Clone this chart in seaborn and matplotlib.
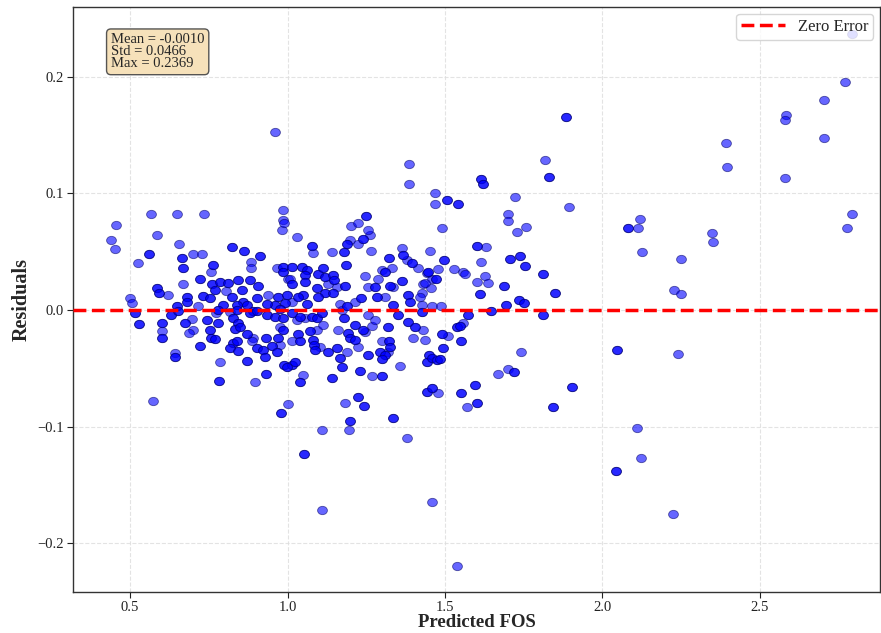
import numpy as np
import pandas as pd
import matplotlib
matplotlib.use("Agg")
import matplotlib.pyplot as plt
from matplotlib.path import Path
from matplotlib.markers import MarkerStyle
import seaborn as sns

# Predicted FOS / residual pairs that occur once in the test set
fos_once = [
    0.456, 0.440, 0.452, 0.567, 0.649, 0.735, 0.525, 0.500, 0.506, 0.573,
    0.586, 0.656, 0.700, 0.729, 0.757, 0.884, 0.884, 0.983, 0.967, 1.002, 0.668, 0.621, 0.805, 0.938, 0.716,
    0.602, 0.643, 0.697, 0.700, 0.687, 0.773, 0.786, 0.890, 0.887, 0.976, 0.897, 0.817, 0.976,
    1.030, 1.081, 1.141, 1.198, 1.224, 1.262, 1.256, 1.202, 1.265, 1.008, 1.129, 1.157, 1.014, 1.167,
    1.214, 1.246, 1.256, 1.287, 1.300, 1.332, 1.310, 1.335, 1.363, 1.379, 1.414, 1.452, 1.459, 1.430,
    1.427, 1.456, 1.421, 1.427, 1.459,
    1.030, 1.056, 1.094, 1.113, 1.014, 1.103, 1.189, 1.160, 1.224, 1.246, 1.268, 1.256, 1.278, 1.300,
    1.319, 1.357, 1.430, 1.398, 1.437, 1.049, 1.268, 1.173,
    1.510, 1.557, 1.741, 1.668, 1.700, 1.478, 1.570,
    1.817, 1.468, 1.468, 1.722, 1.894, 1.700, 1.700, 1.729, 1.757, 1.490, 1.630, 1.614, 1.443, 1.478,
    1.529, 1.557, 1.563, 1.437, 1.627, 1.602, 1.637, 1.487,
    1.386, 1.386, 0.986, 0.986, 0.989, 1.224, 0.960,
    2.113, 2.119, 2.125, 2.110, 2.122, 2.224, 2.240, 2.227, 2.249, 2.249, 2.348, 2.351, 2.392, 2.395,
    2.583, 2.579, 2.579, 2.703, 2.703, 2.770, 2.776, 2.792, 2.792,
    1.110, 1.459, 1.538, 1.002, 1.110, 1.195, 1.183, 1.379,
]
resid_once = [
    0.073, 0.060, 0.052, 0.082, 0.082, 0.082, 0.040, 0.010, 0.006, -0.078,
    0.064, 0.057, 0.048, 0.048, 0.033, 0.041, 0.036, 0.069, 0.036, 0.027, 0.022, 0.013, 0.016, 0.013, 0.003,
    -0.018, -0.037, -0.008, -0.017, -0.020, -0.003, -0.045, -0.024, -0.027, -0.030, -0.062, -0.002, -0.015,
    0.063, 0.049, 0.050, 0.060, 0.057, 0.064, 0.069, 0.072, 0.051, 0.027, 0.022, 0.020, 0.007, 0.005,
    0.007, 0.029, 0.020, 0.027, 0.034, 0.036, 0.011, 0.020, 0.053, 0.043, 0.036, 0.051, 0.027, 0.022,
    0.015, 0.019, 0.011, 0.004, 0.003,
    -0.009, -0.007, -0.017, -0.013, -0.027, -0.032, -0.036, -0.017, -0.032, -0.019, -0.014, -0.004, -0.009, -0.027,
    -0.036, -0.048, -0.017, -0.024, -0.026, -0.056, -0.057, 0.000,
    -0.022, -0.011, -0.036, -0.055, -0.051, -0.071, -0.083,
    0.129, 0.100, 0.091, 0.097, 0.088, 0.082, 0.076, 0.067, 0.071, 0.070, 0.054, 0.041, 0.032, 0.035,
    0.035, 0.033, 0.031, 0.023, 0.029, 0.024, 0.023, 0.003,
    0.125, 0.108, 0.086, 0.077, 0.075, 0.075, 0.153,
    0.070, 0.078, 0.050, -0.101, -0.127, -0.175, -0.038, 0.017, 0.014, 0.044, 0.066, 0.058, 0.143, 0.123,
    0.167, 0.163, 0.113, 0.180, 0.148, 0.196, 0.070, 0.082, 0.2369,
    -0.172, -0.165, -0.220, -0.081, -0.103, -0.103, -0.080, -0.110,
]

# Pairs that occur twice (repeated samples overlap exactly)
fos_twice = [
    0.516, 0.529,
    0.560, 0.665, 0.668, 0.763, 0.824, 0.862, 0.913, 0.986, 0.986, 0.722, 0.586, 0.592, 0.681, 0.681,
    0.732, 0.760, 0.786, 0.811, 0.843, 0.881, 0.906, 0.770, 0.856, 0.824, 0.754, 0.859, 0.840, 0.903,
    0.871, 0.795, 0.970, 0.998, 0.992, 0.960, 0.935, 0.649, 0.779, 0.840, 0.890, 0.976,
    0.602, 0.602, 0.643, 0.630, 0.652, 0.675, 0.722, 0.744, 0.754, 0.757, 0.770, 0.779, 0.783, 0.827,
    0.843, 0.833, 0.849, 0.871, 0.827, 0.840, 0.817, 0.843, 0.871, 0.903, 0.922, 0.929, 0.932, 0.951,
    0.967, 0.932, 0.989, 0.881, 0.903, 0.935, 0.960, 0.986, 0.986, 0.970,
    1.078, 1.179, 1.189, 1.240, 1.186, 1.014, 1.046, 1.062, 1.056, 1.014, 1.056, 1.097, 1.113, 1.119,
    1.144, 1.148, 1.094, 1.183, 1.119, 1.097, 1.144, 1.049, 1.033, 1.062, 1.189, 1.233, 1.278, 1.310,
    1.284, 1.325, 1.363, 1.322, 1.367, 1.395, 1.446, 1.383, 1.389, 1.335,
    1.014, 1.040, 1.078, 1.094, 1.110, 1.071, 1.033, 1.040, 1.081, 1.084, 1.087, 1.129, 1.157, 1.167,
    1.173, 1.179, 1.192, 1.198, 1.214, 1.214, 1.256, 1.240, 1.322, 1.325, 1.294, 1.310, 1.300, 1.319,
    1.351, 1.383, 1.405, 1.449, 1.443, 1.459, 1.014, 1.024, 0.998, 1.040, 1.141, 1.230, 1.300, 1.427,
    1.490, 1.538, 1.548, 1.551, 1.494, 1.475, 1.484, 1.719, 1.595, 1.443, 1.459, 1.551, 1.602, 1.843, 1.903,
    1.614, 1.621, 1.830, 1.506, 1.541, 1.602, 1.497, 1.706, 1.738, 1.754, 1.471, 1.687, 1.611, 1.811,
    1.849, 1.735, 1.751, 1.694, 1.573, 1.646, 1.811,
    1.249,
    1.884, 2.081, 2.046, 2.043,
    0.979, 1.052, 1.198, 1.224, 1.243, 1.335,
]
resid_twice = [
    -0.003, -0.012,
    0.048, 0.045, 0.036, 0.039, 0.054, 0.051, 0.046, 0.037, 0.033, 0.027, 0.019, 0.015, 0.011, 0.007,
    0.012, 0.022, 0.024, 0.023, 0.026, 0.026, 0.021, 0.017, 0.017, 0.011, 0.010, 0.007, 0.004, 0.010,
    0.004, 0.004, 0.011, 0.013, 0.006, 0.004, 0.005, 0.003, 0.000, 0.000, -0.001, 0.001,
    -0.011, -0.024, -0.040, -0.004, -0.001, -0.011, -0.031, -0.009, -0.017, -0.024, -0.025, -0.011, -0.061, -0.007,
    -0.011, -0.016, -0.015, -0.021, -0.028, -0.027, -0.033, -0.035, -0.044, -0.033, -0.034, -0.040, -0.024, -0.031,
    -0.036, -0.055, -0.047, -0.003, -0.001, -0.004, -0.006, -0.007, -0.017, -0.024,
    0.055, 0.050, 0.057, 0.061, 0.039, 0.037, 0.037, 0.034, 0.030, 0.022, 0.024, 0.031, 0.036, 0.028,
    0.030, 0.026, 0.019, 0.021, 0.015, 0.011, 0.015, 0.013, 0.011, 0.005, 0.003, 0.010, 0.020, 0.033,
    0.011, 0.021, 0.025, 0.045, 0.047, 0.040, 0.033, 0.013, 0.007, 0.004,
    -0.003, -0.006, -0.006, -0.007, -0.003, -0.018, -0.021, -0.027, -0.026, -0.030, -0.034, -0.036, -0.033, -0.041,
    -0.049, -0.007, -0.020, -0.024, -0.026, -0.013, -0.039, -0.017, -0.027, -0.032, -0.036, -0.039, -0.042, -0.015,
    -0.004, -0.010, -0.015, -0.039, -0.045, -0.041, -0.047, -0.045, -0.049, -0.062, -0.058, -0.052, -0.057, -0.002,
    -0.021, -0.015, -0.014, -0.027, -0.033, -0.043, -0.042, -0.053, -0.064, -0.070, -0.067, -0.071, -0.080, -0.083, -0.066,
    0.112, 0.108, 0.114, 0.094, 0.091, 0.055, 0.043, 0.044, 0.046, 0.038, 0.027, 0.021, 0.014, 0.031,
    0.015, 0.009, 0.006, 0.004, -0.004, -0.001, -0.004,
    0.081,
    0.166, 0.070, -0.034, -0.138,
    -0.088, -0.124, -0.095, -0.075, -0.082, -0.093,
]

stats_lines = ["Mean = -0.0010", "Std = 0.0466", "Max = 0.2369"]
x_ticks = [0.5, 1.0, 1.5, 2.0, 2.5]
y_ticks = [-0.2, -0.1, 0.0, 0.1, 0.2]

df = pd.DataFrame({
    "Predicted FOS": fos_once + fos_twice + fos_twice,
    "Residuals": resid_once + resid_twice + resid_twice,
})

sns.set_theme(style="whitegrid")
plt.rcParams["font.family"] = ["Liberation Serif", "DejaVu Serif"]
plt.rcParams["axes.unicode_minus"] = True

fig = plt.figure(figsize=(8.81, 6.33), dpi=100)
ax = fig.add_axes([73 / 881, 41 / 633, 807 / 881, 585 / 633])

# slightly wide oval marker
circ = Path.unit_circle()
oval = Path(circ.vertices * np.array([1.18, 1.0]), circ.codes)

sns.scatterplot(data=df, x="Predicted FOS", y="Residuals", ax=ax,
                marker=MarkerStyle(oval), s=50, color="blue", alpha=0.6,
                edgecolor="#000066", linewidth=0.6, zorder=3)

ax.axhline(0, color="red", linestyle="--", linewidth=2.5, label="Zero Error", zorder=4)

ax.set_xlim(0.319, 2.881)
ax.set_ylim(-0.242, 0.260)
ax.set_xticks(x_ticks)
ax.set_yticks(y_ticks)
ax.tick_params(axis="both", labelsize=10.5, colors="#222222", length=4, width=0.8,
               direction="out", left=True, bottom=True, pad=2.5)
ax.grid(True, linestyle="--", color="#dddddd", linewidth=0.8, alpha=0.8)
for sp in ax.spines.values():
    sp.set_color("#333333")
    sp.set_linewidth(1.0)

ax.set_xlabel("Predicted FOS", fontsize=13.5, fontweight="bold", labelpad=0)
ax.set_ylabel("Residuals", fontsize=14.5, fontweight="bold", labelpad=4)

ax.text(0.047, 0.955, "\n".join(stats_lines), transform=ax.transAxes,
        fontsize=10.5, va="top", ha="left", linespacing=0.9,
        bbox=dict(boxstyle="round,pad=0.3", facecolor="wheat", edgecolor="#444444",
                  alpha=0.9, linewidth=1.0), zorder=5)

leg = ax.legend(loc="upper right", fontsize=12, frameon=True, borderpad=0.3,
                handlelength=2.6, borderaxespad=0.4)
leg.get_frame().set_edgecolor("#cccccc")

fig.savefig("out.png", dpi=100)
